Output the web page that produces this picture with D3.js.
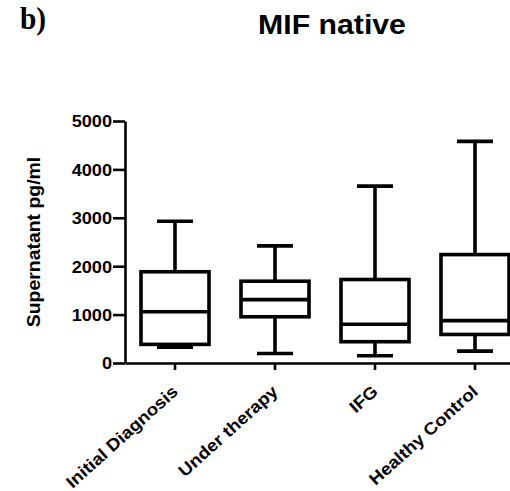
<!DOCTYPE html>
<html>
<head>
<meta charset="utf-8">
<script src="https://cdn.jsdelivr.net/npm/d3@7"></script>
<style>
	body { margin: 0; background: #fff; }
	text { font-family: "Liberation Sans", Arial, sans-serif; font-weight: bold; fill: #000; }
</style>
</head>
<body>
<div id="chart"></div>
<script>
const groups = ["Initial Diagnosis", "Under therapy", "IFG", "Healthy Control"];
const whiskerLow = [325, 195, 150, 245];
const quartile1 = [385, 955, 440, 590];
const medians = [1060, 1310, 800, 875];
const quartile3 = [1885, 1690, 1725, 2240];
const whiskerHigh = [2930, 2420, 3655, 4580];
const yTicks = [0, 1000, 2000, 3000, 4000, 5000];

(function() {
	const width = 510, height = 491;

	const svg = d3.select("#chart").append("svg")
		.attr("width", width)
		.attr("height", height);

	const x = d3.scaleBand().domain(groups).range([125, 525]);
	const y = d3.scaleLinear().domain([0, 5000]).range([363, 121]);

	// panel letter and title
	svg.append("text")
		.attr("transform", "translate(20,29) scale(0.95,1)")
		.style("font-family", "'Liberation Serif', 'Times New Roman', serif")
		.style("font-size", "31px")
		.text("b)");

	svg.append("text")
		.attr("transform", "translate(332,34) scale(1.12,1)")
		.attr("text-anchor", "middle")
		.style("font-size", "27px")
		.text("MIF native");

	// y axis
	const yAxis = svg.append("g")
		.attr("transform", "translate(125,0)")
		.call(d3.axisLeft(y).tickValues(yTicks).tickSize(12).tickSizeOuter(0).tickFormat(d3.format("d")));
	yAxis.select(".domain").attr("stroke-width", 2.6);
	yAxis.selectAll(".tick line").attr("stroke-width", 2.6);
	yAxis.selectAll(".tick text")
		.attr("x", 0)
		.attr("dy", "0.36em")
		.attr("transform", "translate(-13,0) scale(1.1,1)")
		.style("font-size", "16.5px");

	svg.append("text")
		.attr("transform", "translate(40,242) rotate(-90) scale(1.08,1)")
		.attr("text-anchor", "middle")
		.style("font-size", "18px")
		.text("Supernatant pg/ml");

	// x axis
	const xAxis = svg.append("g")
		.attr("transform", "translate(0,363)")
		.call(d3.axisBottom(x).tickSize(7).tickSizeOuter(0));
	xAxis.select(".domain").attr("stroke-width", 2.6);
	xAxis.selectAll(".tick line").attr("stroke-width", 2.6);
	xAxis.selectAll(".tick text").remove();

	svg.selectAll(".xlabel")
		.data(groups)
		.join("text")
		.attr("class", "xlabel")
		.attr("text-anchor", "end")
		.attr("transform", d => "translate(" + (x(d) + x.bandwidth() / 2 + 4) + ",393) rotate(-42) scale(1.1,1)")
		.style("font-size", "17px")
		.text(d => d);

	// boxes
	const boxW = 68, capW = 36;
	const box = svg.selectAll(".box")
		.data(groups)
		.join("g")
		.attr("class", "box")
		.attr("transform", d => "translate(" + (x(d) + x.bandwidth() / 2) + ",0)")
		.attr("stroke", "#000")
		.attr("stroke-width", 3.6)
		.attr("fill", "none");

	box.append("line")
		.attr("y1", (d, i) => y(whiskerLow[i]))
		.attr("y2", (d, i) => y(quartile1[i]));
	box.append("line")
		.attr("y1", (d, i) => y(quartile3[i]))
		.attr("y2", (d, i) => y(whiskerHigh[i]));
	box.append("line")
		.attr("x1", -capW / 2).attr("x2", capW / 2)
		.attr("y1", (d, i) => y(whiskerLow[i]))
		.attr("y2", (d, i) => y(whiskerLow[i]));
	box.append("line")
		.attr("x1", -capW / 2).attr("x2", capW / 2)
		.attr("y1", (d, i) => y(whiskerHigh[i]))
		.attr("y2", (d, i) => y(whiskerHigh[i]));
	box.append("rect")
		.attr("x", -boxW / 2)
		.attr("width", boxW)
		.attr("y", (d, i) => y(quartile3[i]))
		.attr("height", (d, i) => y(quartile1[i]) - y(quartile3[i]))
		.attr("fill", "#fff");
	box.append("line")
		.attr("x1", -boxW / 2).attr("x2", boxW / 2)
		.attr("y1", (d, i) => y(medians[i]))
		.attr("y2", (d, i) => y(medians[i]));
})();
</script>
</body>
</html>
